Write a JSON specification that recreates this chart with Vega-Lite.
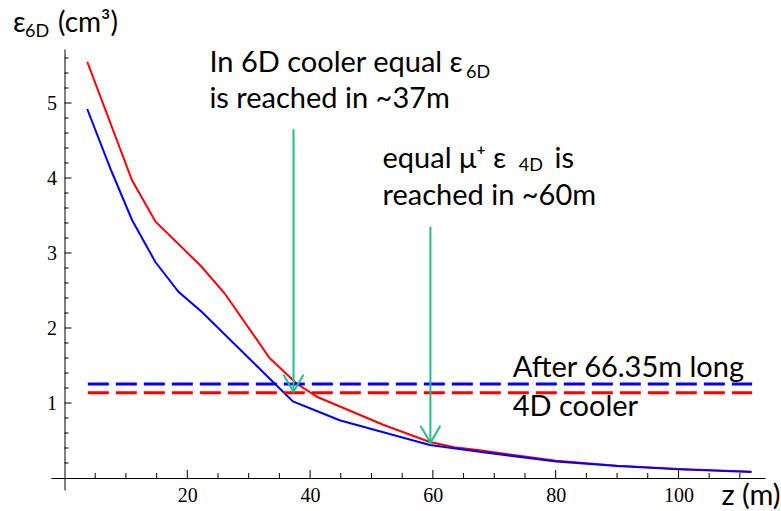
{
  "$schema": "https://vega.github.io/schema/vega-lite/v6.json",
  "width": 714,
  "height": 441,
  "autosize": {"type": "none"},
  "padding": {"left": 51, "top": 49, "right": 16, "bottom": 21},
  "background": "white",
  "config": {"view": {"stroke": null}},
  "datasets": {
    "curves": [
      {"series": "red", "x": 3.7, "y": 5.55},
      {"series": "red", "x": 11.0, "y": 3.97},
      {"series": "red", "x": 14.8, "y": 3.42},
      {"series": "red", "x": 22.3, "y": 2.82},
      {"series": "red", "x": 26.1, "y": 2.46},
      {"series": "red", "x": 33.4, "y": 1.6},
      {"series": "red", "x": 37.8, "y": 1.26},
      {"series": "red", "x": 41.2, "y": 1.08},
      {"series": "red", "x": 51.9, "y": 0.71},
      {"series": "red", "x": 59.5, "y": 0.48},
      {"series": "red", "x": 63.5, "y": 0.41},
      {"series": "red", "x": 67.6, "y": 0.37},
      {"series": "red", "x": 80.1, "y": 0.23},
      {"series": "red", "x": 90.0, "y": 0.165},
      {"series": "red", "x": 100.2, "y": 0.12},
      {"series": "red", "x": 111.9, "y": 0.085},
      {"series": "blue", "x": 3.7, "y": 4.92},
      {"series": "blue", "x": 7.6, "y": 4.1},
      {"series": "blue", "x": 11.0, "y": 3.44},
      {"series": "blue", "x": 14.8, "y": 2.88},
      {"series": "blue", "x": 18.6, "y": 2.48},
      {"series": "blue", "x": 22.3, "y": 2.22},
      {"series": "blue", "x": 30.0, "y": 1.6},
      {"series": "blue", "x": 37.2, "y": 1.02},
      {"series": "blue", "x": 41.5, "y": 0.88},
      {"series": "blue", "x": 44.8, "y": 0.77},
      {"series": "blue", "x": 59.5, "y": 0.44},
      {"series": "blue", "x": 67.6, "y": 0.35},
      {"series": "blue", "x": 80.1, "y": 0.22},
      {"series": "blue", "x": 90.0, "y": 0.16},
      {"series": "blue", "x": 100.2, "y": 0.115},
      {"series": "blue", "x": 111.9, "y": 0.08}
    ],
    "levels": [
      {"series": "blue", "x": 3.8, "x2": 112, "y": 1.253},
      {"series": "red", "x": 3.8, "x2": 112, "y": 1.137}
    ],
    "arrows": [
      {"x": 37.3, "y": 4.65, "y2": 1.15},
      {"x": 59.6, "y": 3.35, "y2": 0.47}
    ],
    "xmajor": [{"x": 20, "y": 0}, {"x": 40, "y": 0}, {"x": 60, "y": 0}, {"x": 80, "y": 0}, {"x": 100, "y": 0}],
    "xminor": [{"x": 5, "y": 0}, {"x": 10, "y": 0}, {"x": 15, "y": 0}, {"x": 25, "y": 0}, {"x": 30, "y": 0}, {"x": 35, "y": 0}, {"x": 45, "y": 0}, {"x": 50, "y": 0}, {"x": 55, "y": 0}, {"x": 65, "y": 0}, {"x": 70, "y": 0}, {"x": 75, "y": 0}, {"x": 85, "y": 0}, {"x": 90, "y": 0}, {"x": 95, "y": 0}, {"x": 105, "y": 0}, {"x": 110, "y": 0}],
    "ymajor": [{"x": 0, "y": 1}, {"x": 0, "y": 2}, {"x": 0, "y": 3}, {"x": 0, "y": 4}, {"x": 0, "y": 5}],
    "yminor": [{"x": 0, "y": 0.2}, {"x": 0, "y": 0.4}, {"x": 0, "y": 0.6}, {"x": 0, "y": 0.8}, {"x": 0, "y": 1.2}, {"x": 0, "y": 1.4}, {"x": 0, "y": 1.6}, {"x": 0, "y": 1.8}, {"x": 0, "y": 2.2}, {"x": 0, "y": 2.4}, {"x": 0, "y": 2.6}, {"x": 0, "y": 2.8}, {"x": 0, "y": 3.2}, {"x": 0, "y": 3.4}, {"x": 0, "y": 3.6}, {"x": 0, "y": 3.8}, {"x": 0, "y": 4.2}, {"x": 0, "y": 4.4}, {"x": 0, "y": 4.6}, {"x": 0, "y": 4.8}, {"x": 0, "y": 5.2}, {"x": 0, "y": 5.4}, {"x": 0, "y": 5.6}],
    "labels": [
      {"x": 23.6, "y": 5.42, "text": "In 6D cooler equal ε"},
      {"x": 23.6, "y": 4.93, "text": "is reached in ~37m"},
      {"x": 51.8, "y": 4.13, "text": "equal μ⁺"},
      {"x": 69.8, "y": 4.13, "text": "ε"},
      {"x": 79.8, "y": 4.13, "text": "is"},
      {"x": 51.8, "y": 3.64, "text": "reached in ~60m"},
      {"x": 73.0, "y": 1.35, "text": "After 66.35m long"},
      {"x": 73.0, "y": 0.83, "text": "4D cooler"},
      {"x": 107.0, "y": -0.36, "text": "z (m)"}
    ],
    "titles": [
      {"x": -8.4, "y": 5.95, "text": "ε"},
      {"x": -1.06, "y": 5.95, "text": "(cm³)"}
    ],
    "subs": [
      {"x": 65.4, "y": 5.33, "text": "6D"},
      {"x": 74.0, "y": 4.09, "text": "4D"},
      {"x": -6.43, "y": 5.88, "text": "6D"}
    ]
  },
  "encoding": {
    "x": {
      "field": "x",
      "type": "quantitative",
      "scale": {"domain": [-2.2, 114.1], "nice": false, "zero": false},
      "axis": {
        "orient": "top",
        "offset": -429,
        "title": null,
        "grid": false,
        "ticks": true,
        "values": [20, 40, 60, 80, 100],
        "format": "d",
        "tickSize": 8,
        "tickOpacity": 0,
        "domainColor": "black",
        "domainWidth": 1,
        "labelColor": "black",
        "labelFont": "Liberation Serif",
        "labelFontSize": 20,
        "labelBaseline": "top",
        "labelPadding": -15,
        "labelFlush": false,
        "labelOverlap": false
      }
    },
    "y": {
      "field": "y",
      "type": "quantitative",
      "scale": {"domain": [-0.16, 5.72], "nice": false, "zero": false},
      "axis": {
        "orient": "right",
        "offset": -700.5,
        "title": null,
        "grid": false,
        "ticks": true,
        "values": [1, 2, 3, 4, 5],
        "format": "d",
        "tickSize": 7,
        "tickOpacity": 0,
        "domainColor": "black",
        "domainWidth": 1,
        "labelColor": "black",
        "labelFont": "Liberation Serif",
        "labelFontSize": 20,
        "labelAlign": "right",
        "labelPadding": -15,
        "labelFlush": false,
        "labelOverlap": false
      }
    }
  },
  "layer": [
    {
      "data": {"name": "curves"},
      "transform": [{"filter": "datum.series == 'red'"}],
      "mark": {"type": "line", "color": "#FF0000", "strokeWidth": 2},
      "encoding": {}
    },
    {
      "data": {"name": "curves"},
      "transform": [{"filter": "datum.series == 'blue'"}],
      "mark": {"type": "line", "color": "#0000FF", "strokeWidth": 2},
      "encoding": {}
    },
    {
      "data": {"name": "xmajor"},
      "mark": {"type": "tick", "orient": "vertical", "size": 8, "thickness": 1, "yOffset": -4, "color": "black", "opacity": 1},
      "encoding": {}
    },
    {
      "data": {"name": "xminor"},
      "mark": {"type": "tick", "orient": "vertical", "size": 5, "thickness": 1, "yOffset": -2.5, "color": "black", "opacity": 1},
      "encoding": {}
    },
    {
      "data": {"name": "ymajor"},
      "mark": {"type": "tick", "orient": "horizontal", "size": 7, "thickness": 1, "xOffset": 3.5, "color": "black", "opacity": 1},
      "encoding": {}
    },
    {
      "data": {"name": "yminor"},
      "mark": {"type": "tick", "orient": "horizontal", "size": 4, "thickness": 1, "xOffset": 2, "color": "black", "opacity": 1},
      "encoding": {}
    },
    {
      "data": {"name": "levels"},
      "mark": {"type": "rule", "strokeWidth": 3, "strokeDash": [21, 7]},
      "encoding": {
        "x2": {"field": "x2"},
        "color": {"field": "series", "type": "nominal", "scale": {"domain": ["red", "blue"], "range": ["#FF0000", "#0000FF"]}, "legend": null}
      }
    },
    {
      "data": {"name": "arrows"},
      "mark": {"type": "rule", "color": "#1BC08E", "strokeWidth": 2},
      "encoding": {"y2": {"field": "y2"}}
    },
    {
      "data": {"name": "arrows"},
      "mark": {"type": "point", "shape": "M-1,-1.7L0,0L1,-1.7", "size": 400, "filled": false, "color": "#1BC08E", "strokeWidth": 2, "opacity": 1},
      "encoding": {"y": {"field": "y2", "type": "quantitative"}}
    },
    {
      "data": {"name": "labels"},
      "mark": {"type": "text", "font": "Lato", "fontSize": 29, "align": "left", "baseline": "alphabetic", "color": "black"},
      "encoding": {"text": {"field": "text"}}
    },
    {
      "data": {"name": "titles"},
      "mark": {"type": "text", "font": "Lato", "fontSize": 28, "align": "left", "baseline": "alphabetic", "color": "black"},
      "encoding": {"text": {"field": "text"}}
    },
    {
      "data": {"name": "subs"},
      "mark": {"type": "text", "font": "Lato", "fontSize": 18, "align": "left", "baseline": "alphabetic", "color": "black"},
      "encoding": {"text": {"field": "text"}}
    }
  ]
}
